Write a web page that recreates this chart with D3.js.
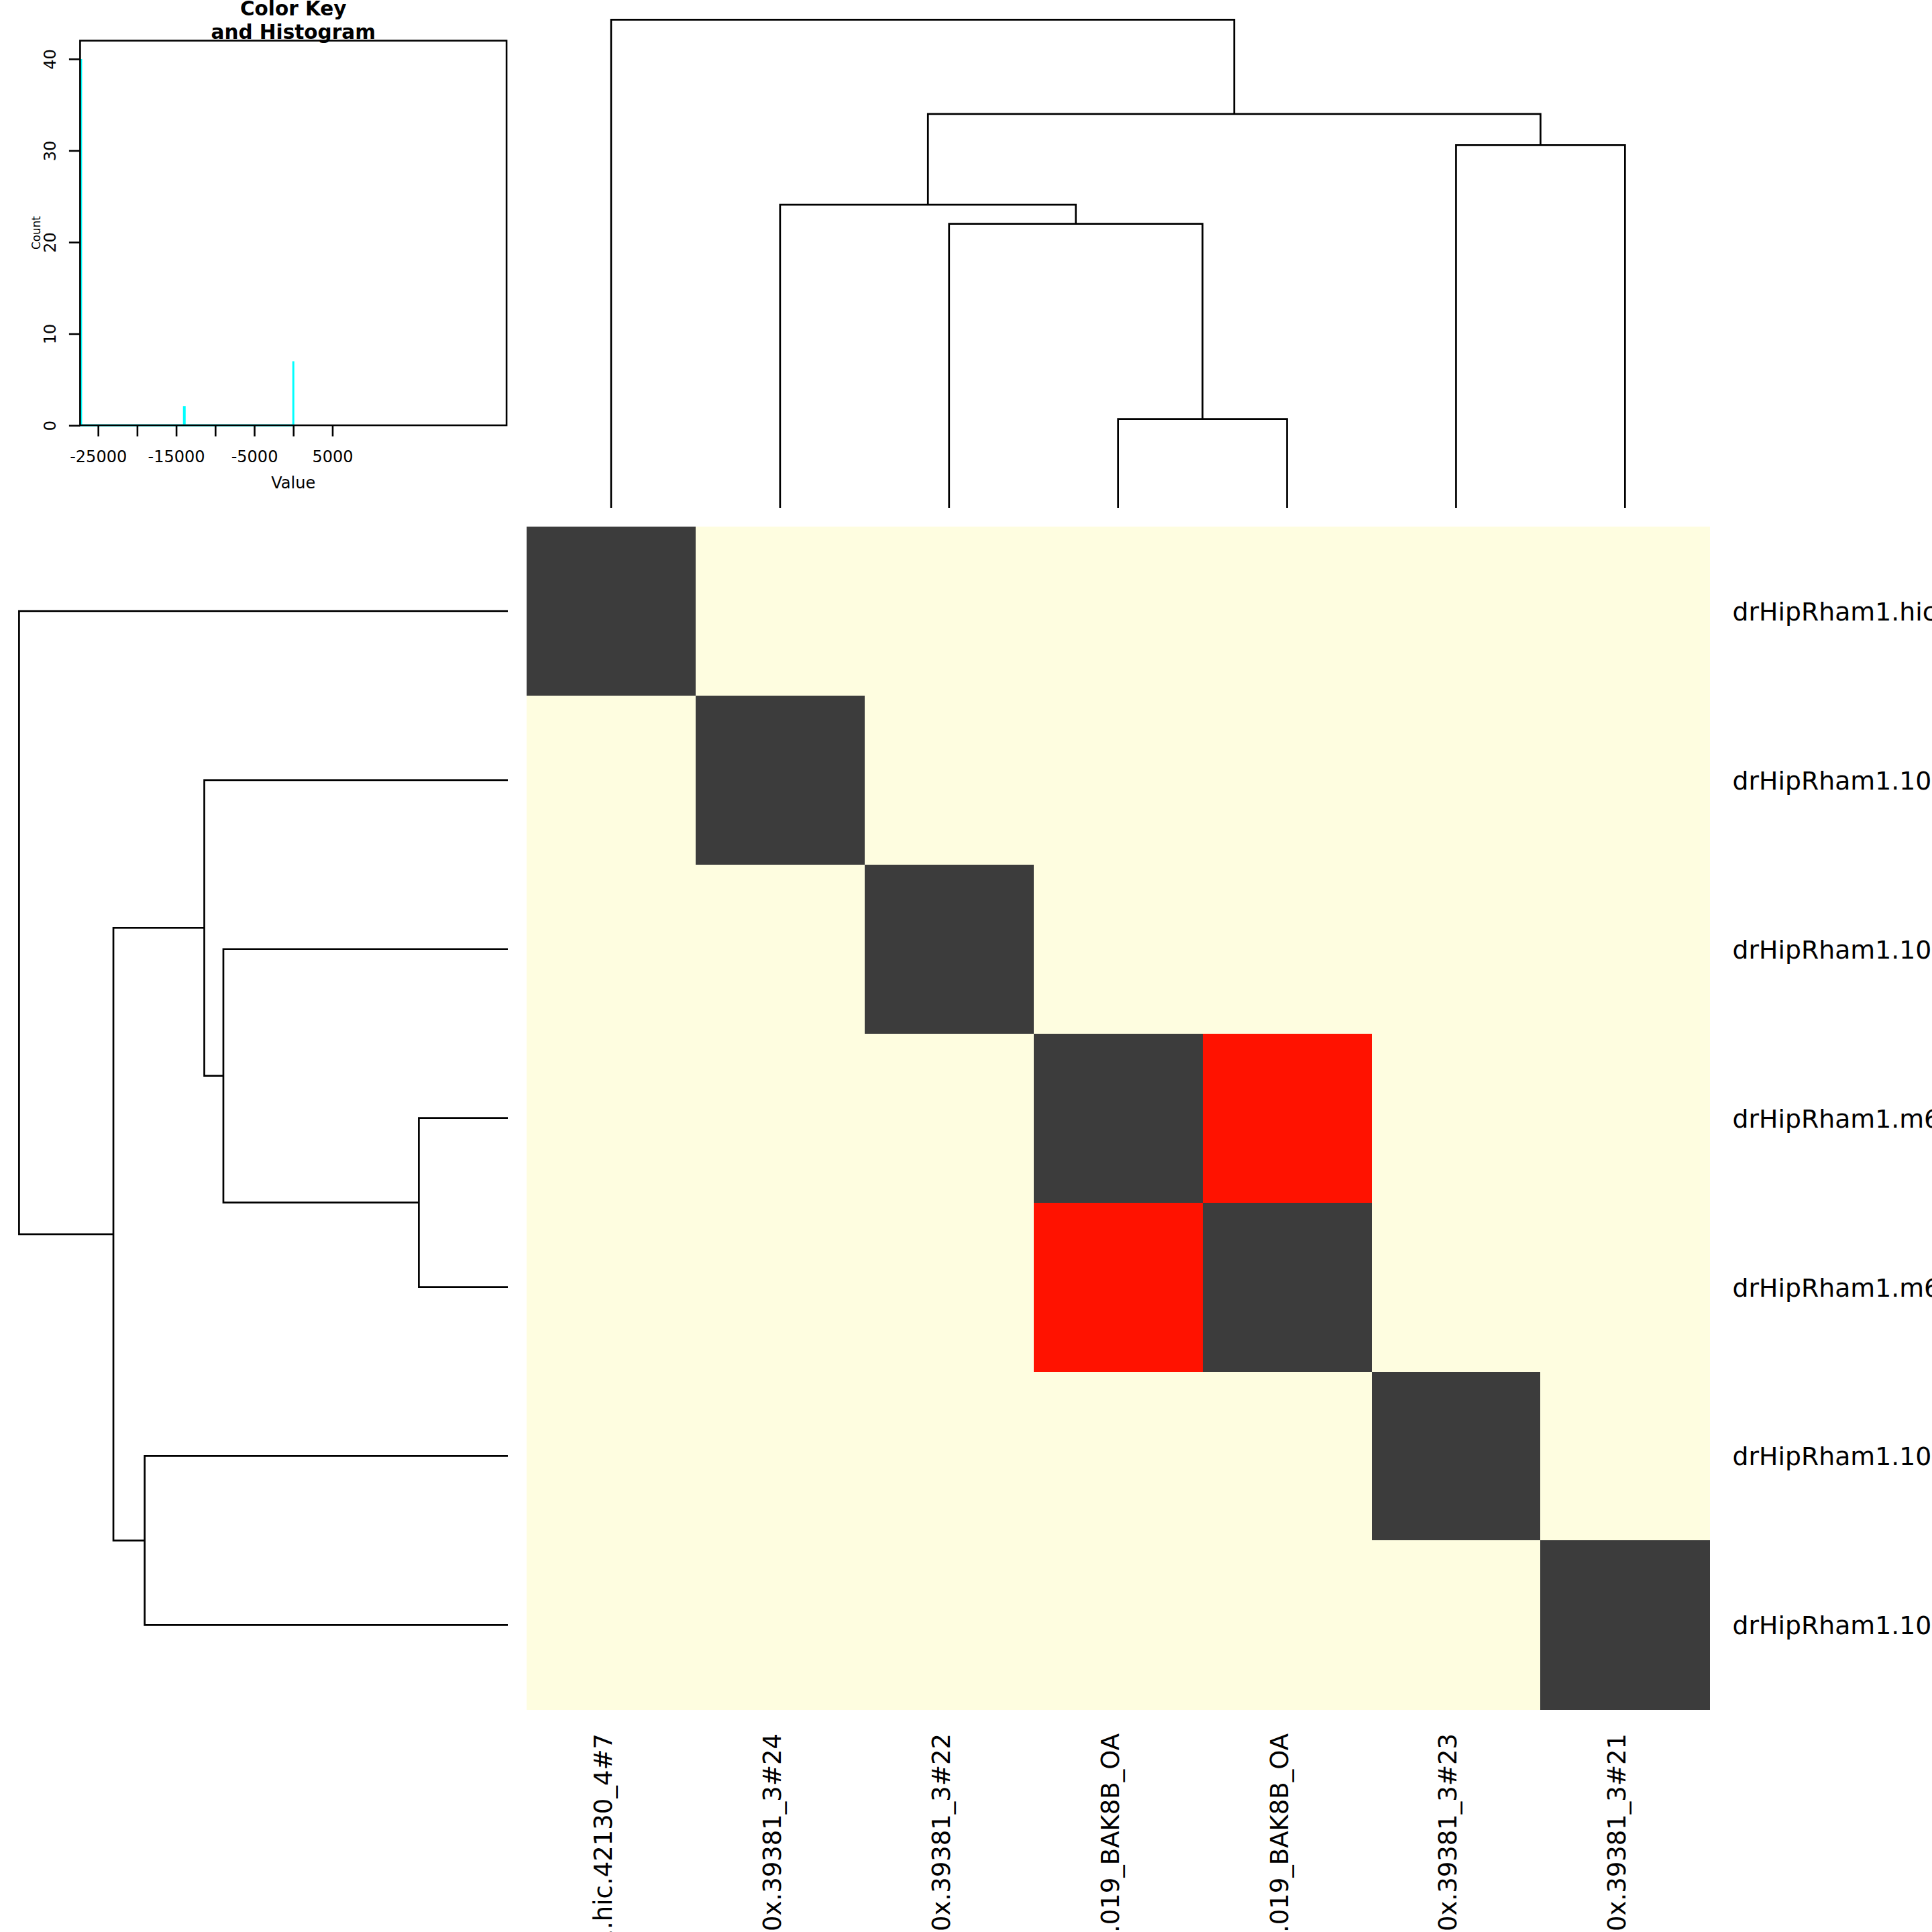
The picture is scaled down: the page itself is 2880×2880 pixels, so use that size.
<!DOCTYPE html>
<html>
<head>
<meta charset="utf-8">
<script src="https://cdn.jsdelivr.net/npm/d3@7"></script>
<style>
  html, body { margin: 0; padding: 0; background: #ffffff; }
  svg { display: block; font-family: "DejaVu Sans", sans-serif; }
</style>
</head>
<body>
<script>
// ---------------- DATA ----------------
const sampleLabels = [
  "drHipRham1.hic.42130_4#7",
  "drHipRham1.10x.39381_3#24",
  "drHipRham1.10x.39381_3#22",
  "drHipRham1.m64094_2021.019_BAK8B_OA",
  "drHipRham1.m64097_2021.019_BAK8B_OA",
  "drHipRham1.10x.39381_3#23",
  "drHipRham1.10x.39381_3#21"
];
// matrix values (rows in display order, columns in display order)
const row1 = [0, -27300, -27300, -27300, -27300, -27300, -27300];
const row2 = [-27300, 0, -27300, -27300, -27300, -27300, -27300];
const row3 = [-27300, -27300, 0, -27300, -27300, -27300, -27300];
const row4 = [-27300, -27300, -27300, 0, -14000, -27300, -27300];
const row5 = [-27300, -27300, -27300, -14000, 0, -27300, -27300];
const row6 = [-27300, -27300, -27300, -27300, -27300, 0, -27300];
const row7 = [-27300, -27300, -27300, -27300, -27300, -27300, 0];
const matrixRows = [row1, row2, row3, row4, row5, row6, row7];

// hclust-style merges (negative = leaf index, 1-based; positive = earlier merge)
const mergeLeft  = [-4, -3, -2, -6, 3, -1];
const mergeRight = [-5,  1,  2, -7, 4,  5];
const mergeHeights = [18.2, 58.2, 62.1, 74.3, 80.7, 100];

// colour key
const colorBreaks = [-20000, -7000];
const colorPalette = ["#fefde0", "#ff1200", "#3c3c3c"];
const keyDomain = [-27300, 27300];
const keyXTicks = [-25000, -20000, -15000, -10000, -5000, 0, 5000];
const keyXTickLabels = ["-25000", "", "-15000", "", "-5000", "", "5000"];
const keyYTicks = [0, 10, 20, 30, 40];
const histValues = [-27300, -14000, 0];
const histCounts = [40, 2, 7];

// ---------------- LAYOUT ----------------
const W = 2880, H = 2880;
const hmX0 = 785, hmX1 = 2548.3, hmY0 = 785, hmY1 = 2548.3;

const svg = d3.select("body").append("svg")
  .attr("width", W).attr("height", H)
  .attr("viewBox", `0 0 ${W} ${H}`)
  .style("overflow", "hidden");
svg.append("rect").attr("width", W).attr("height", H).attr("fill", "#ffffff");

const idx = d3.range(sampleLabels.length);
const xBand = d3.scaleBand().domain(idx).range([hmX0, hmX1]).padding(0);
const yBand = d3.scaleBand().domain(idx).range([hmY0, hmY1]).padding(0);
const color = d3.scaleThreshold().domain(colorBreaks).range(colorPalette);

// heatmap cells
const cells = [];
matrixRows.forEach((r, i) => r.forEach((v, j) => cells.push({i, j, v})));
svg.append("g").selectAll("rect").data(cells).join("rect")
  .attr("x", d => xBand(d.j))
  .attr("y", d => yBand(d.i))
  .attr("width", xBand.bandwidth() + 0.5)
  .attr("height", yBand.bandwidth() + 0.5)
  .attr("fill", d => color(d.v))
  .attr("shape-rendering", "crispEdges");

// row labels
svg.append("g").selectAll("text").data(idx).join("text")
  .attr("x", 2582.5)
  .attr("y", d => yBand(d) + yBand.bandwidth() / 2 + 14)
  .attr("font-size", 37.8)
  .attr("fill", "#000")
  .text(d => sampleLabels[d]);

// column labels (rotated)
svg.append("g").selectAll("text").data(idx).join("text")
  .attr("transform", d => `translate(${xBand(d) + xBand.bandwidth() / 2 + 1},2584) rotate(-90)`)
  .attr("text-anchor", "end")
  .attr("font-size", 37)
  .attr("fill", "#000")
  .text(d => sampleLabels[d]);

// ---------------- DENDROGRAMS ----------------
function buildNodes(posOfLeaf) {
  const nodes = [];
  const get = k => k < 0 ? {pos: posOfLeaf(-k - 1), h: 0} : nodes[k - 1];
  mergeLeft.forEach((l, m) => {
    const a = get(l), b = get(mergeRight[m]);
    nodes.push({a, b, pos: (a.pos + b.pos) / 2, h: mergeHeights[m]});
  });
  return nodes;
}
const maxH = d3.max(mergeHeights);

// column dendrogram (top)
const colH = d3.scaleLinear().domain([0, maxH]).range([757, 29.4]);
const colNodes = buildNodes(i => xBand(i) + xBand.bandwidth() / 2);
svg.append("g").selectAll("path").data(colNodes).join("path")
  .attr("d", n => `M${n.a.pos},${colH(n.a.h)}V${colH(n.h)}H${n.b.pos}V${colH(n.b.h)}`)
  .attr("fill", "none").attr("stroke", "#000").attr("stroke-width", 2.7);

// row dendrogram (left)
const rowH = d3.scaleLinear().domain([0, maxH]).range([757, 28.4]);
const rowNodes = buildNodes(i => yBand(i) + yBand.bandwidth() / 2);
svg.append("g").selectAll("path").data(rowNodes).join("path")
  .attr("d", n => `M${rowH(n.a.h)},${n.a.pos}H${rowH(n.h)}V${n.b.pos}H${rowH(n.b.h)}`)
  .attr("fill", "none").attr("stroke", "#000").attr("stroke-width", 2.7);

// ---------------- COLOR KEY / HISTOGRAM ----------------
const kx = d3.scaleLinear().domain(keyDomain).range([119.4, 755.1]);
const ky = d3.scaleLinear().domain([0, 42]).range([634, 60.6]);
const key = svg.append("g");

// histogram step line
const stepPts = [];
histValues.forEach((v, k) => {
  const x = kx(v);
  if (k === 0) {
    stepPts.push([x + 1.5, ky(histCounts[k])]);
    stepPts.push([x + 1.5, ky(0)]);
  } else if (k < histValues.length - 1) {
    stepPts.push([x, ky(0)]);
    stepPts.push([x, ky(histCounts[k])]);
    stepPts.push([x + 1, ky(histCounts[k])]);
    stepPts.push([x + 1, ky(0)]);
  } else {
    stepPts.push([x, ky(0)]);
    stepPts.push([x, ky(histCounts[k])]);
  }
});
key.append("path")
  .attr("d", d3.line()(stepPts))
  .attr("fill", "none").attr("stroke", "#00ffff").attr("stroke-width", 3);

// box
key.append("rect")
  .attr("x", 119.4).attr("y", 60.6).attr("width", 755.1 - 119.4).attr("height", 634 - 60.6)
  .attr("fill", "none").attr("stroke", "#000").attr("stroke-width", 2.6);

// x axis
const xAxis = d3.axisBottom(kx).tickValues(keyXTicks)
  .tickFormat((d, i) => keyXTickLabels[i]).tickSize(16.5).tickPadding(21);
const gx = key.append("g").attr("transform", "translate(0,634)").call(xAxis);
gx.select(".domain").remove();
gx.selectAll(".tick line").attr("stroke", "#000").attr("stroke-width", 2.6);
gx.selectAll(".tick text").attr("font-size", 24).attr("font-family", "DejaVu Sans").attr("fill", "#000");

// y axis
const yAxis = d3.axisLeft(ky).tickValues(keyYTicks).tickSize(16.5).tickFormat(d3.format("d"));
const gy = key.append("g").attr("transform", "translate(119.4,0)").call(yAxis);
gy.select(".domain").remove();
gy.selectAll(".tick line").attr("stroke", "#000").attr("stroke-width", 2.6);
gy.selectAll(".tick text")
  .attr("font-size", 24).attr("font-family", "DejaVu Sans").attr("fill", "#000")
  .attr("x", null).attr("dy", null)
  .attr("text-anchor", "middle")
  .attr("transform", "translate(-36,0) rotate(-90)");

// axis titles
key.append("text").attr("x", 437.25).attr("y", 728)
  .attr("text-anchor", "middle").attr("font-size", 24).text("Value");
key.append("text")
  .attr("transform", "translate(60,347) rotate(-90)")
  .attr("text-anchor", "middle").attr("font-size", 16.8).text("Count");

// title
key.append("text").attr("x", 437.25).attr("y", 23)
  .attr("text-anchor", "middle").attr("font-size", 29.5).attr("font-weight", "bold")
  .text("Color Key");
key.append("text").attr("x", 437.25).attr("y", 57.5)
  .attr("text-anchor", "middle").attr("font-size", 29.5).attr("font-weight", "bold")
  .text("and Histogram");
</script>
</body>
</html>
